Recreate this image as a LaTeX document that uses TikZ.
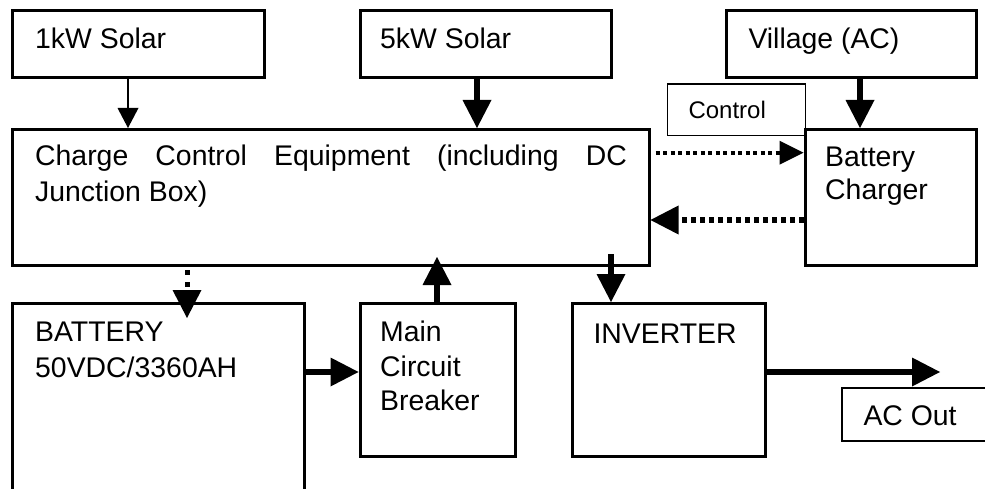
\documentclass[tikz,border=0pt]{standalone}
\usepackage{fontspec}
\setmainfont{Liberation Sans}
\usetikzlibrary{arrows.meta,calc}
\newcommand\bigfont{\fontsize{28.4pt}{33pt}\selectfont}
\newcommand\smallfont{\fontsize{24pt}{28pt}\selectfont}
\tikzset{
  box/.style={draw, rectangle, line width=3pt, outer sep=1.5pt, inner sep=0pt},
  thinbox/.style={draw, rectangle, line width=1.2pt, outer sep=0.6pt, inner sep=0pt},
  txt/.style={anchor=base west, inner sep=0pt, font=\bigfont},
  thinarrow/.style={line width=2.5pt, -{Triangle[length=20pt,width=21pt,line width=0pt]}},
  thickarrow/.style={line width=6.5pt, -{Triangle[length=28pt,width=29pt,line width=0pt]}},
  dotarrowA/.style={line width=4pt, dash pattern=on 4pt off 3.5pt, -{Triangle[length=24pt,width=24pt,line width=0pt]}},
  dotarrowB/.style={line width=5.5pt, dash pattern=on 5pt off 4pt, -{Triangle[length=28pt,width=29pt,line width=0pt]}},
  dotarrowC/.style={line width=5pt, dash pattern=on 5pt off 7pt, -{Triangle[length=28pt,width=29pt,line width=0pt]}},
}
\begin{document}
\begin{tikzpicture}[x=1pt,y=-1pt]
\useasboundingbox (0,0) rectangle (985,489);
\clip (0,0) rectangle (985,489);
\fill[white] (0,0) rectangle (985,489);

% boxes
\node[box, minimum width=251.5pt, minimum height=67pt] (s1) at (138.25,44.5) {};
\node[box, minimum width=250.5pt, minimum height=67pt] (s2) at (485.75,44.5) {};
\node[box, minimum width=250pt, minimum height=67pt] (vil) at (851.5,44.5) {};
\node[box, minimum width=636.5pt, minimum height=136pt] (cc) at (330.75,197.5) {};
\node[box, minimum width=171.5pt, minimum height=136pt] (bc) at (890.75,197.5) {};
\node[box, minimum width=291.5pt, minimum height=226.5pt] (bat) at (158.25,416.75) {};
\node[box, minimum width=155.5pt, minimum height=153pt] (mcb) at (437.75,380) {};
\node[box, minimum width=192.5pt, minimum height=153pt] (inv) at (668.75,380) {};
\node[thinbox, minimum width=138pt, minimum height=51.7pt] (ctrl) at (736.7,109.85) {};
\node[thinbox, fill=white, minimum width=200pt, minimum height=53pt] (acout) at (942,414.5) {};

% texts
\node[txt] (t1) at (35,48.3) {1kW Solar};
\node[txt] (t2) at (380,48.3) {5kW Solar};
\node[txt] (t3) at (748.3,48.8) {Village (AC)};
\node[txt] (t4) at (35,165.7) {\makebox[591.7pt][s]{Charge Control Equipment (including DC}};
\node[txt] (t5) at (35,201.7) {Junction Box)};
\node[txt] (t6) at (825,166.7) {Battery};
\node[txt] (t7) at (825,200) {Charger};
\node[txt, font=\smallfont] (t8) at (688.3,118.3) {Control};
\node[txt] (t9) at (35,341.7) {BATTERY};
\node[txt] (t10) at (35,377.3) {50VDC/3360AH};
\node[txt] (t11) at (380,341.7) {Main};
\node[txt] (t12) at (380,376.7) {Circuit};
\node[txt] (t13) at (380,410) {Breaker};
\node[txt] (t14) at (593.3,343.3) {INVERTER};
\node[txt] (t15) at (863.3,425) {AC Out};

% helper coordinates
\coordinate (c1) at (128,0);
\coordinate (c2) at (477,0);
\coordinate (c3) at (860,0);
\coordinate (c4) at (0,152.7);
\coordinate (c5) at (0,220);
\coordinate (c6) at (187,0);
\coordinate (c7) at (437,0);
\coordinate (c8) at (611,0);
\coordinate (c9) at (0,372);
\coordinate (acend) at (940,372);

% connectors
\draw[thinarrow] (s1.south -| c1) -- (cc.north -| c1);
\draw[thickarrow] (s2.south -| c2) -- (cc.north -| c2);
\draw[thickarrow] (vil.south -| c3) -- (bc.north -| c3);
\draw[dotarrowA] ($(cc.east |- c4)+(5,0)$) -- (bc.west |- c4);
\draw[dotarrowB] (bc.west |- c5) -- (cc.east |- c5);
\draw[dotarrowC] ($(cc.south -| c6)+(0,3)$) -- ($(bat.north -| c6)+(0,16)$);
\draw[thickarrow] (mcb.north -| c7) -- ($(cc.south -| c7)+(0,-10)$);
\draw[thickarrow] ($(cc.south -| c8)+(0,-13)$) -- (inv.north -| c8);
\draw[thickarrow] (bat.east |- c9) -- (mcb.west |- c9);
\draw[thickarrow] (inv.east |- c9) -- (acend);
\end{tikzpicture}
\end{document}
